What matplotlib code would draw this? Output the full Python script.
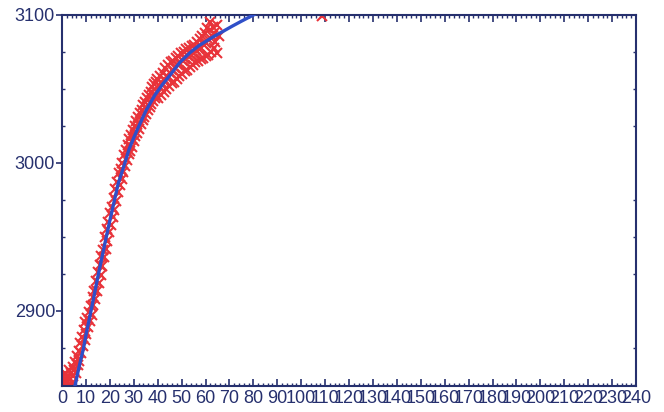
import matplotlib
matplotlib.use("Agg")
import matplotlib.pyplot as plt
from matplotlib.ticker import MultipleLocator

meas_x = [0.2, 0.6, 1.0, 1.3, 1.8, 2.2, 2.5, 2.9, 3.3, 3.7, 4.0, 4.4, 4.8, 5.2, 5.5,
          5.9, 6.3, 6.6, 7.0, 7.3, 7.7, 8.0, 8.4, 8.8, 9.1, 9.5, 9.8, 10.2, 10.6, 11.0,
          11.3, 11.7, 12.0,
          12.4, 12.8, 13.1, 13.5, 13.9, 14.2, 14.6, 15.0, 15.3, 15.7, 16.1, 16.4, 16.8,
          17.2, 17.5, 17.9, 18.3, 18.6, 19.0, 19.4, 19.7, 20.1, 20.5, 20.8, 21.2, 21.6,
          21.9, 22.3, 22.7, 23.0, 23.4, 23.8, 24.1,
          24.5, 24.9, 25.2, 25.6, 26.0, 26.3, 26.7, 27.1, 27.4, 27.8, 28.2, 28.5, 28.9,
          29.3, 29.6, 30.0, 30.4, 30.7, 31.1, 31.5, 31.8, 32.2, 32.6, 32.9, 33.3, 33.7,
          34.0, 34.4, 34.8, 35.1, 35.5, 35.9, 36.2, 36.6, 37.0, 37.3, 37.7, 38.1, 38.4,
          38.8, 39.2, 39.5,
          39.9, 40.3, 40.6, 41.0, 41.4, 41.7, 42.1, 42.5, 42.8, 43.2, 43.6, 43.9, 44.3,
          44.7, 45.0, 45.4, 45.8, 46.1, 46.5, 46.9, 47.2, 47.6, 48.0, 48.3, 48.7, 49.1,
          49.4, 49.8, 50.2, 50.5, 50.9, 51.3, 51.6, 52.0, 52.4, 52.7, 53.1, 53.5, 53.8,
          54.2, 54.6, 54.9, 55.3, 55.7, 56.0, 56.4, 56.8, 57.1, 57.5, 57.9, 58.2, 58.6,
          59.0, 59.3, 59.7, 60.1, 60.4, 60.8, 61.2, 61.5, 61.9, 62.3, 62.6, 63.0, 63.4,
          63.7, 64.1, 64.6, 65.0, 65.5,
          108.5]
meas_y = [2851, 2855, 2850, 2858, 2853, 2856, 2850, 2860, 2854, 2858, 2851, 2862, 2856, 2860, 2865,
          2858, 2869, 2863, 2873, 2866, 2878, 2871, 2882, 2876, 2887, 2880, 2892, 2884, 2895, 2889,
          2899, 2893, 2903,
          2897, 2909, 2904, 2913, 2908, 2920, 2913, 2926, 2919, 2931, 2924, 2937, 2930,
          2941, 2936, 2950, 2942, 2955, 2947, 2960, 2953, 2966, 2958, 2970, 2963, 2976,
          2968, 2982, 2974, 2987, 2980, 2993, 2985,
          2996, 2989, 3000, 2994, 3005, 2998, 3009, 3002, 3012, 3006, 3016, 3008, 3019,
          3011, 3022, 3015, 3025, 3018, 3028, 3020, 3031, 3023, 3034, 3026, 3036, 3029,
          3039, 3031, 3041, 3033, 3044, 3036, 3046, 3038, 3048, 3040, 3051, 3042, 3053,
          3044, 3055, 3046,
          3057, 3044, 3052, 3059, 3046, 3054, 3061, 3048, 3057, 3064, 3050, 3059, 3066,
          3052, 3061, 3068, 3054, 3063, 3069, 3055, 3064, 3071, 3057, 3066, 3072, 3059,
          3067, 3074, 3060, 3069, 3075, 3062, 3070, 3077, 3063, 3072, 3078, 3065, 3073,
          3079, 3066, 3074, 3080, 3068, 3076, 3082, 3069, 3077, 3084, 3070, 3078, 3086,
          3071, 3080, 3088, 3072, 3081, 3091, 3073, 3083, 3095, 3075, 3086, 3092, 3078,
          3088, 3082, 3093, 3074, 3086,
          3099]

# fitted curve (blue)
fit_x = [3.0, 5.4, 7.0, 8.9, 10.2, 12.4, 15.0, 18.0, 20.0, 23.5, 26.3, 28.0, 30.0, 31.9,
         35.0, 38.9, 42.0, 45.0, 49.3, 53.5, 57.0, 60.0, 63.5, 67.4, 71.0, 75.0, 80.0,
         85.0, 90.0]
fit_y = [2830, 2849, 2861, 2874, 2885, 2902, 2923, 2946, 2961, 2986, 3000, 3009, 3017, 3024,
         3035, 3046, 3053, 3059, 3068, 3074.5, 3079, 3082, 3085.5, 3089, 3092.3, 3095.8, 3100,
         3104, 3107.8]

navy = "#26306e"

fig = plt.figure(figsize=(6.64, 4.12), dpi=100)
ax = fig.add_axes([0.0934, 0.0631, 0.8645, 0.9005])

ax.plot(meas_x, meas_y, "x", color="#e8333a", markersize=6.5, markeredgewidth=1.5, zorder=2)
ax.plot(fit_x, fit_y, "-", color="#2f4fc8", linewidth=2.4, zorder=3)

ax.set_xlim(0, 240)
ax.set_ylim(2849, 3100)

ax.xaxis.set_major_locator(MultipleLocator(10))
ax.xaxis.set_minor_locator(MultipleLocator(2))
ax.yaxis.set_major_locator(MultipleLocator(100))
ax.yaxis.set_minor_locator(MultipleLocator(25))

ax.tick_params(axis="x", which="major", direction="in", length=5, width=1.2,
               top=True, colors=navy, labelsize=13, pad=3)
ax.tick_params(axis="x", which="minor", direction="in", length=2.5, width=1,
               top=True, colors=navy)
ax.tick_params(axis="y", which="major", direction="out", length=4, width=1.2,
               colors=navy, labelsize=13, pad=1)
ax.tick_params(axis="y", which="minor", direction="in", length=2, width=1,
               right=True, colors=navy)

for lab in ax.get_xticklabels() + ax.get_yticklabels():
    lab.set_fontfamily("Liberation Sans")

for s in ax.spines.values():
    s.set_color(navy)
    s.set_linewidth(1.5)

fig.savefig("out.png", dpi=100)
